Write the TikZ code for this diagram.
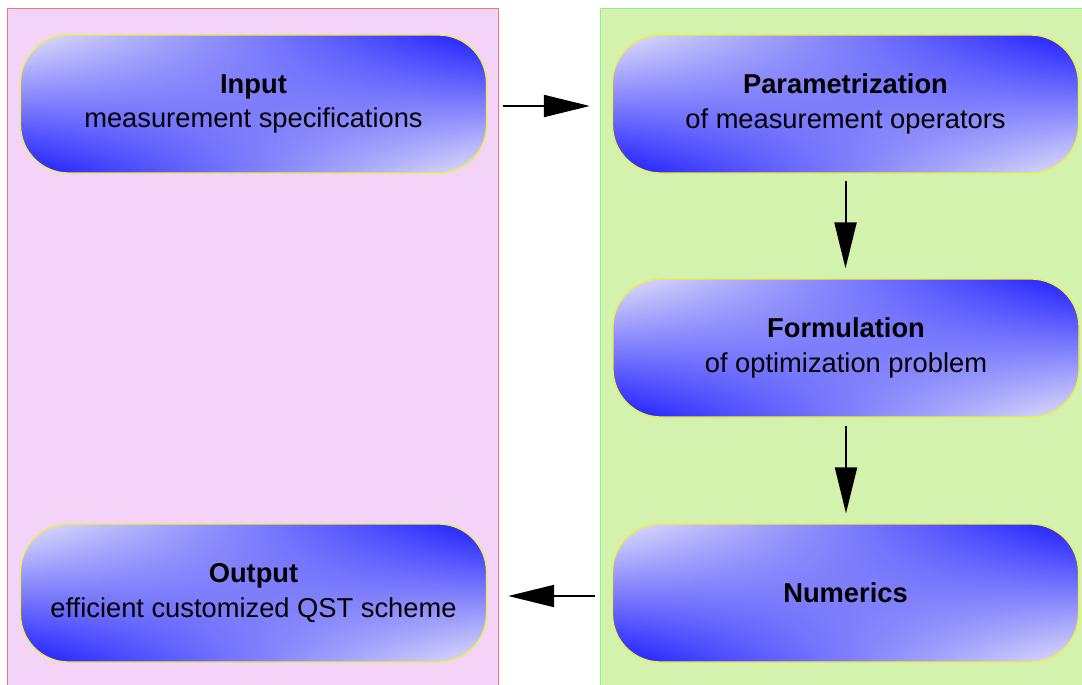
\documentclass[tikz,border=0pt]{standalone}
\usepackage{fontspec}
\setmainfont{Liberation Sans}
\usetikzlibrary{arrows.meta,shadings}
\definecolor{pinkfill}{HTML}{F3D3F7}
\definecolor{pinkdraw}{HTML}{EE7777}
\definecolor{greenfill}{HTML}{D3F2AD}
\definecolor{greendraw}{HTML}{90EE90}
\definecolor{boxblue}{HTML}{1A1AFF}
\definecolor{boxlight}{HTML}{E2E2FA}
\definecolor{boxedge}{HTML}{EEEE44}
\tikzset{
  panel/.style={line width=1pt},
  stage/.style={shade, upper left=boxlight, upper right=boxblue,
    lower left=boxblue, lower right=boxlight,
    draw=boxedge, line width=1.3pt, rounded corners=48pt,
    minimum width=466pt, minimum height=138pt, inner sep=0pt,
    align=center, font=\fontsize{27.3}{34.5}\selectfont, text=black},
  flow/.style={line width=2pt, -{Triangle[length=46pt,width=22pt]}},
}
\begin{document}
\begin{tikzpicture}[x=1pt,y=-1pt]
\useasboundingbox (0,0) rectangle (1082,685);
\fill[white] (0,0) rectangle (1082,685);
\draw[panel, fill=pinkfill, draw=pinkdraw] (7.5,8.5) rectangle (498,700);
\draw[panel, fill=greenfill, draw=greendraw] (600,8.5) rectangle (1100,700);
\node[stage] (in) at (253.5,104) {\textbf{Input}\\measurement specifications};
\node[stage] (par) at (845.5,104) {\textbf{Parametrization}\\of measurement operators};
\node[stage] (form) at (846,348) {\textbf{Formulation}\\of optimization problem};
\node[stage] (num) at (845.5,593) {\textbf{Numerics}};
\node[stage] (out) at (253.5,593) {\textbf{Output}\\efficient customized QST scheme};
\draw[flow, shorten <=16pt, shorten >=22pt] ([yshift=-2pt]in.east) -- ([yshift=-2pt]par.west);
\draw[flow, shorten <=7pt, shorten >=10pt] (par.south) -- (par.south |- form.north);
\draw[flow, shorten <=8pt, shorten >=10pt] (form.south) -- (form.south |- num.north);
\draw[flow, shorten <=17pt, shorten >=21pt] ([yshift=-3pt]num.west) -- ([yshift=-3pt]out.east);
\end{tikzpicture}
\end{document}
